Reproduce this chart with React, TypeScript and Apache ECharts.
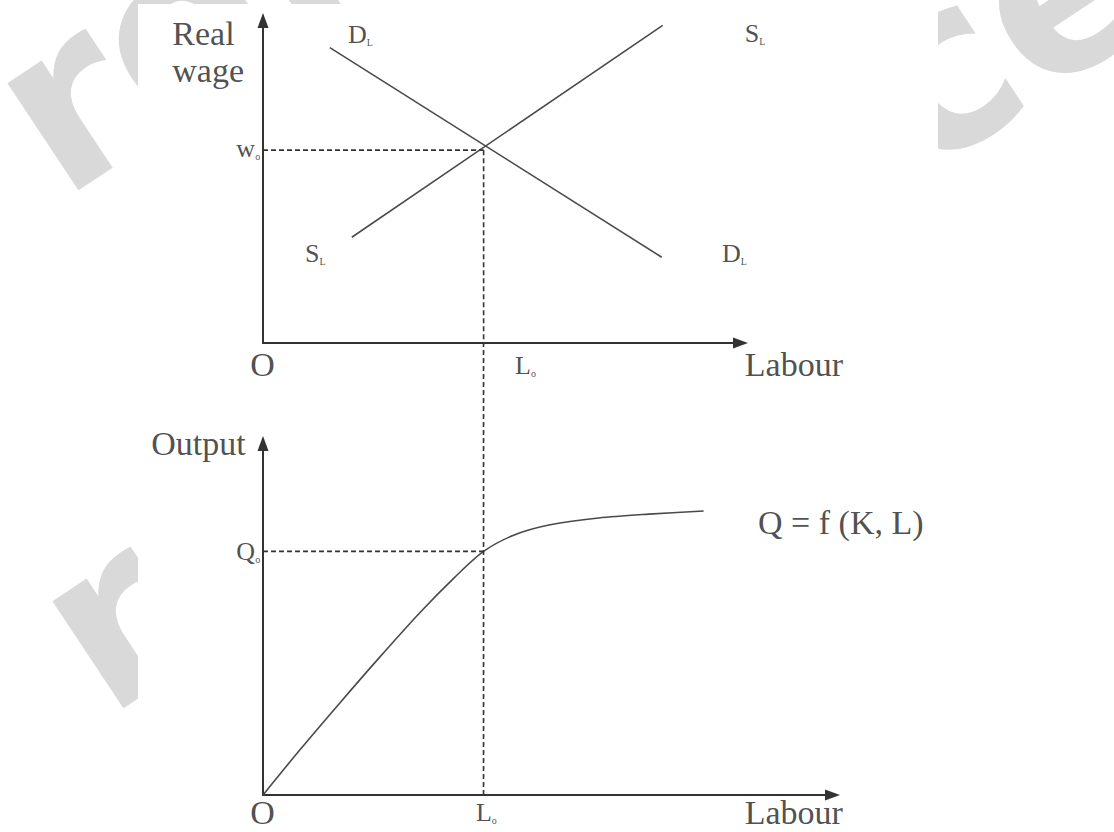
import React, { useEffect, useRef } from "react";
import * as echarts from "echarts";

const SERIF = '"Liberation Serif", "Times New Roman", serif';
const INK = "#222";
const LINE = "#4a4a4a";
const AXIS = "#333";

// ---- Upper panel: labour market (x: labour, y: real wage) ----
const demandCurve = [
  [14, 91.6],
  [83.5, 26.6],
];
const supplyCurve = [
  [18.6, 32.8],
  [83.7, 98.5],
];
const L0 = 46.2; // equilibrium labour
const W0 = 59.8; // equilibrium real wage

// ---- Lower panel: production function (x: labour, y: output) ----
const outputCurve = [
  [0, 0],
  [7.7, 12.8],
  [16.1, 26.2],
  [24.5, 39.3],
  [32.8, 51.8],
  [40.2, 62.0],
  [46.2, 69.3],
  [52.5, 73.9],
  [59.9, 76.8],
  [70.3, 78.8],
  [80.8, 79.9],
  [92.3, 80.8],
];
const Q0 = 69.3; // output at L0
const GUIDE_TOP = 128.6; // dashed L0 guide reaches up to the upper panel's labour axis

// axis ranges
const topX = [0, 100];
const topY = [0, 100];
const bottomX = [0, 119.3];
const bottomY = [0, 100];

// text labels: [text, [x, y], align]
const topLabels: [string, number[], string][] = [
  ["{b|Real}", [-19, 96], "left"],
  ["{b|wage}", [-19, 84.5], "left"],
  ["{m|D}{s|L}", [17.8, 95.8], "left"],
  ["{m|S}{s|L}", [100.9, 96.1], "left"],
  ["{m|w}{s|o}", [-0.6, 60.2], "right"],
  ["{m|S}{s|L}", [8.8, 27.9], "left"],
  ["{m|D}{s|L}", [96.1, 27.9], "left"],
  ["{b|O}", [-0.1, -6.8], "center"],
  ["{m|L}{s|o}", [52.8, -7.1], "left"],
  ["{b|Labour}", [100.9, -6.8], "left"],
];
const bottomLabels: [string, number[], string][] = [
  ["{b|Output}", [-23.4, 100.1], "left"],
  ["{m|Q}{s|o}", [-0.6, 69.4], "right"],
  ["{b|Q = f (K, L)}", [103.7, 77.4], "left"],
  ["{b|O}", [-0.1, -4.9], "center"],
  ["{m|L}{s|o}", [46.8, -4.9], "center"],
  ["{b|Labour}", [100.9, -4.9], "left"],
];

const WATERMARK = "reference";

const RICH = {
  b: { fontFamily: SERIF, fontSize: 34, color: INK },
  m: { fontFamily: SERIF, fontSize: 26, color: INK },
  s: { fontFamily: SERIF, fontSize: 10, color: INK, verticalAlign: "bottom" },
};

function axis(gridIndex: number, range: number[]) {
  return {
    type: "value",
    gridIndex,
    min: range[0],
    max: range[1],
    axisLine: {
      show: true,
      onZero: false,
      symbol: ["none", "triangle"],
      symbolSize: [11, 15],
      lineStyle: { color: AXIS, width: 2 },
    },
    axisTick: { show: false },
    axisLabel: { show: false },
    splitLine: { show: false },
  };
}

function line(idx: number, data: number[][], opts: any = {}) {
  return {
    type: "line",
    xAxisIndex: idx,
    yAxisIndex: idx,
    data,
    showSymbol: false,
    symbol: "none",
    silent: true,
    z: 3,
    lineStyle: { color: LINE, width: 1.6 },
    ...opts,
  };
}

function dashed(idx: number, data: number[][], clip = true) {
  return line(idx, data, {
    clip,
    lineStyle: { color: AXIS, width: 1.6, type: [5, 3] },
  });
}

function labels(idx: number, items: [string, number[], string][]) {
  return {
    type: "scatter",
    xAxisIndex: idx,
    yAxisIndex: idx,
    symbolSize: 1,
    clip: false,
    silent: true,
    z: 6,
    itemStyle: { color: "rgba(0,0,0,0)" },
    data: items.map(([text, at, align]) => ({
      value: at,
      label: {
        show: true,
        position: "inside",
        formatter: text,
        align,
        verticalAlign: "middle",
        color: INK,
        fontFamily: SERIF,
        rich: RICH,
      },
    })),
  };
}

function watermark(x: number, y: number) {
  const size = 235;
  return {
    type: "text",
    x,
    y,
    rotation: 0.586,
    z: -20,
    silent: true,
    style: {
      text: WATERMARK,
      x: 0,
      y: -0.346 * size,
      fill: "#d9d9d9",
      font: `bold ${size}px "DejaVu Sans"`,
      align: "left",
      verticalAlign: "middle",
      textAlign: "left",
      textVerticalAlign: "middle",
    },
  };
}

export default function App() {
  const ref = useRef<HTMLDivElement>(null);
  useEffect(() => {
    document.body.style.margin = "0";
    const chart = echarts.init(ref.current!, null, { renderer: "svg" });
    chart.setOption({
      animation: false,
      backgroundColor: "#fff",
      graphic: [
        watermark(62, 201),
        watermark(107, 719),
        {
          type: "rect",
          z: -10,
          silent: true,
          shape: { x: 138, y: 4, width: 800, height: 828 },
          style: { fill: "#fff" },
        },
      ],
      grid: [
        { left: 263, top: 20.5, width: 477.5, height: 322.5 },
        { left: 263, top: 443.5, width: 569.5, height: 351.5 },
      ],
      xAxis: [axis(0, topX), axis(1, bottomX)],
      yAxis: [axis(0, topY), axis(1, bottomY)],
      series: [
        line(0, demandCurve),
        line(0, supplyCurve),
        dashed(0, [
          [0, W0],
          [L0, W0],
        ]),
        dashed(0, [
          [L0, W0],
          [L0, 0],
        ]),
        labels(0, topLabels),
        line(1, outputCurve, { smooth: 0.3 }),
        dashed(1, [
          [0, Q0],
          [L0, Q0],
        ]),
        dashed(
          1,
          [
            [L0, 0],
            [L0, GUIDE_TOP],
          ],
          false
        ),
        labels(1, bottomLabels),
      ],
    });
    return () => chart.dispose();
  }, []);
  return (
    <div
      ref={ref}
      style={{ position: "absolute", left: 0, top: 0, width: 1114, height: 832 }}
    />
  );
}
